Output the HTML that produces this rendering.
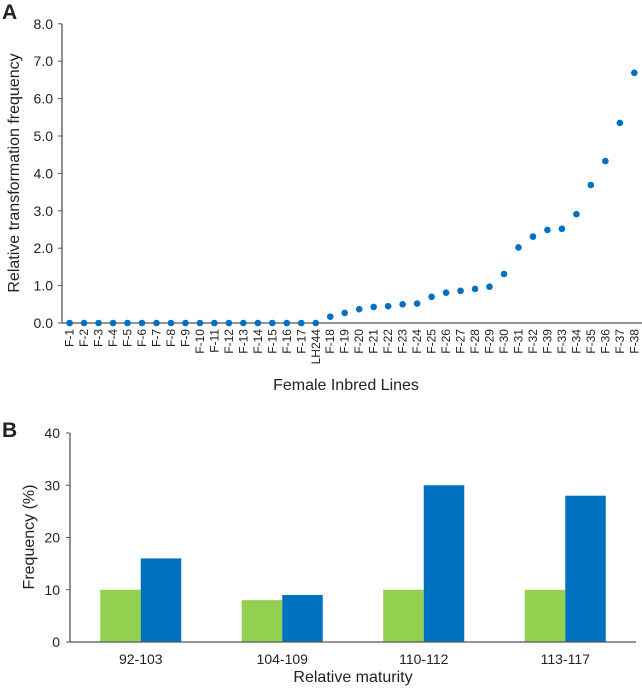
<!DOCTYPE html>
<html><head><meta charset="utf-8"><style>
body{margin:0;background:#fff;width:642px;height:691px;overflow:hidden}
svg text{font-family:"Liberation Sans",Arial,sans-serif;fill:#222}
</style></head><body>
<svg id="svg" width="642" height="691">
<text x="2" y="19" font-size="21" font-weight="bold">A</text>
<text x="2" y="437" font-size="21" font-weight="bold">B</text>
<g id="ga"></g><g id="gb"></g>
</svg>
<script>
const catsA=["F-1","F-2","F-3","F-4","F-5","F-6","F-7","F-8","F-9","F-10","F-11","F-12","F-13","F-14","F-15","F-16","F-17","LH244","F-18","F-19","F-20","F-21","F-22","F-23","F-24","F-25","F-26","F-27","F-28","F-29","F-30","F-31","F-32","F-39","F-33","F-34","F-35","F-36","F-37","F-38"];
const valsA=[0,0,0,0,0,0,0,0,0,0,0,0,0,0,0,0,0,0,0.17,0.27,0.37,0.43,0.45,0.5,0.52,0.7,0.81,0.86,0.91,0.97,1.31,2.02,2.31,2.49,2.52,2.91,3.69,4.33,5.35,6.69];
const ticksA=["0.0","1.0","2.0","3.0","4.0","5.0","6.0","7.0","8.0"];
const catsB=["92-103","104-109","110-112","113-117"];
const greenB=[10,8,10,10];
const blueB=[16,9,30,28];
const ticksB=[0,10,20,30,40];
const NS="http://www.w3.org/2000/svg";
function mk(p,t,a,txt){const e=document.createElementNS(NS,t);for(const k in a)e.setAttribute(k,a[k]);if(txt!==undefined)e.textContent=txt;p.appendChild(e);return e;}
// Chart A
const ga=document.getElementById('ga');
const yA=v=>323-v*37.4, xA=i=>69.6+i*14.48;
ticksA.forEach((t,i)=>{const y=yA(parseFloat(t));
let l=mk(ga,'line',{x1:58,x2:62,y1:y,y2:y,stroke:'#555'});


let tx=mk(ga,'text',{x:53,y:y+5,'font-size':14,'text-anchor':'end'},t);

});
let ax=mk(ga,'line',{x1:62,x2:62,y1:24,y2:323,stroke:'#555','stroke-width':1.3});


let axx=mk(ga,'line',{x1:62,x2:642,y1:323,y2:323,stroke:'#555','stroke-width':1.3});


catsA.forEach((c,i)=>{const x=xA(i);
let t=mk(ga,'text',{x:0,y:0,'font-size':12,'text-anchor':'end',transform:`translate(${x+4},329) rotate(-90)`},c);


let d=mk(ga,'circle',{cx:x,cy:yA(valsA[i]),r:3.3,fill:'#0070c0'});

});
let xt=mk(ga,'text',{x:346,y:390,'font-size':16,'text-anchor':'middle'},'Female Inbred Lines');


let yt=mk(ga,'text',{x:0,y:0,'font-size':16,'text-anchor':'middle',transform:'translate(19,173) rotate(-90)'},'Relative transformation frequency');


// Chart B
const gb=document.getElementById('gb');
const yB=v=>642-v*5.225, gw=141.5, x0=70;
ticksB.forEach(t=>{const y=yB(t);
let l=mk(gb,'line',{x1:66,x2:70,y1:y,y2:y,stroke:'#555'});


let tx=mk(gb,'text',{x:60,y:y+5,'font-size':14,'text-anchor':'end'},t);

});
catsB.forEach((c,i)=>{const cx=x0+gw*(i+0.5);
let g=mk(gb,'rect',{x:cx-40.5,y:yB(greenB[i]),width:40.5,height:642-yB(greenB[i]),fill:'#92d050'});


let b=mk(gb,'rect',{x:cx,y:yB(blueB[i]),width:40.5,height:642-yB(blueB[i]),fill:'#0070c0'});


let t=mk(gb,'text',{x:cx,y:664,'font-size':14,'text-anchor':'middle'},c);

});
let bx=mk(gb,'line',{x1:70,x2:70,y1:433,y2:642,stroke:'#555','stroke-width':1.3});


let bxx=mk(gb,'line',{x1:70,x2:636,y1:642,y2:642,stroke:'#555','stroke-width':1.3});


let bxt=mk(gb,'text',{x:353,y:682,'font-size':16,'text-anchor':'middle'},'Relative maturity');


let byt=mk(gb,'text',{x:0,y:0,'font-size':16,'text-anchor':'middle',transform:'translate(34,537) rotate(-90)'},'Frequency (%)');


</script>
</body></html>
